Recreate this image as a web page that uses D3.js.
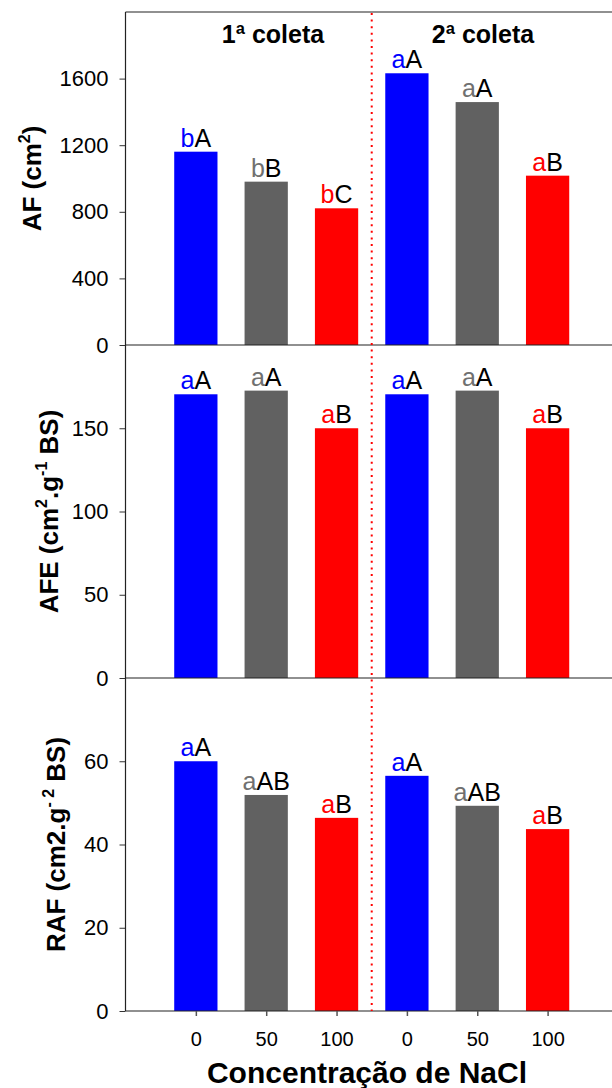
<!DOCTYPE html>
<html><head><meta charset="utf-8">
<script src="https://cdn.jsdelivr.net/npm/d3@7/dist/d3.min.js"></script>
<style>body{margin:0;background:#fff}svg{display:block}text{font-family:"Liberation Sans",Arial,sans-serif}</style>
</head><body>
<script>
const categories = ["0","50","100","0","50","100"];
const collections = ["1ª coleta","2ª coleta"];
const afValues = [1161, 981, 821, 1632, 1459, 1017];
const afeValues = [170.4, 172.6, 150.0, 170.4, 172.6, 150.0];
const rafValues = [60.0, 51.9, 46.4, 56.5, 49.3, 43.7];
const afLower = ["b","b","b","a","a","a"];
const afUpper = ["A","B","C","A","A","B"];
const afeLower = ["a","a","a","a","a","a"];
const afeUpper = ["A","A","B","A","A","B"];
const rafLower = ["a","a","a","a","a","a"];
const rafUpper = ["A","AB","B","A","AB","B"];
const afTicks = [0,400,800,1200,1600];
const afeTicks = [0,50,100,150];
const rafTicks = [0,20,40,60];

const barColors = ["#0000ff","#616161","#ff0000"];
const letterColors = ["#0000ff","#707070","#ff0000"];

const W = 612, H = 1088;
const svg = d3.select("body").append("svg").attr("width",W).attr("height",H);

const x = d3.scaleLinear().domain([0,7]).range([125.5, 125.5+7*70.35]);
const bw = x(0.615)-x(0);

const panels = [
  {vals:afValues, lo:afLower, up:afUpper, ticks:afTicks, dom:[0,2000], top:12, bot:345, titleX:41, title:[["AF (cm",0],["2",1],[")",0]]},
  {vals:afeValues, lo:afeLower, up:afeUpper, ticks:afeTicks, dom:[0,200], top:345, bot:678, titleX:58, title:[["AFE (cm",0],["2",1],[".g",0],["-1",1],[" BS)",0]]},
  {vals:rafValues, lo:rafLower, up:rafUpper, ticks:rafTicks, dom:[0,80], top:678, bot:1011, titleX:65, title:[["RAF (cm2.g",0],["- 2",1],[" BS)",0]]}
];

panels.forEach(p=>{
  const y = d3.scaleLinear().domain(p.dom).range([p.bot,p.top]);
  const g = svg.append("g");
  g.selectAll("rect").data(p.vals).join("rect")
    .attr("x",(d,i)=>x(i+1)-bw/2).attr("width",bw)
    .attr("y",d=>y(d)).attr("height",d=>y(0)-y(d))
    .attr("fill",(d,i)=>barColors[i%3]);
  const lab = g.selectAll("text.lab").data(p.vals).join("text").attr("class","lab")
    .attr("x",(d,i)=>x(i+1)).attr("y",d=>y(d)-5)
    .attr("text-anchor","middle").attr("font-size",25);
  lab.append("tspan").attr("fill",(d,i)=>letterColors[i%3]).text((d,i)=>p.lo[i]);
  lab.append("tspan").attr("fill","#000").text((d,i)=>p.up[i]);
  // y axis
  const ax = g.append("g").attr("transform",`translate(${x(0)},0)`)
    .call(d3.axisLeft(y).tickValues(p.ticks).tickFormat(d3.format("d")).tickSize(6).tickPadding(11).tickSizeOuter(0));
  ax.select(".domain").remove();
  ax.selectAll("line").attr("stroke","#333");
  ax.selectAll("text").attr("font-size",22).attr("fill","#000")
    .attr("font-family","'Liberation Sans',Arial,sans-serif");
  // title
  const cy = (p.top+p.bot)/2;
  const t = g.append("text").attr("transform",`translate(${p.titleX},${cy}) rotate(-90)`)
    .attr("text-anchor","middle").attr("font-size",26).attr("font-weight","bold");
  let prevSup = false;
  p.title.forEach(([s,sup])=>{
    const ts = t.append("tspan").text(s);
    if(sup){ ts.attr("font-size",16).attr("dy",-11); prevSup=true; }
    else if(prevSup){ ts.attr("dy",11); prevSup=false; }
  });
  g.append("line").attr("x1",x(0)).attr("x2",W).attr("y1",p.bot).attr("y2",p.bot).attr("stroke","#222").attr("stroke-width",1.2);
});

// frame
svg.append("line").attr("x1",x(0)).attr("x2",W).attr("y1",12).attr("y2",12).attr("stroke","#222").attr("stroke-width",1.2);
svg.append("line").attr("x1",x(0)).attr("x2",x(0)).attr("y1",12).attr("y2",1011).attr("stroke","#222").attr("stroke-width",1.2);

// divider
svg.append("line").attr("x1",x(3.5)).attr("x2",x(3.5)).attr("y1",13).attr("y2",1011)
  .attr("stroke","#ff0000").attr("stroke-width",2).attr("stroke-dasharray","2,4.6");

// collection titles
svg.selectAll("text.col").data(collections).join("text").attr("class","col")
  .attr("x",(d,i)=>i===0?273:483).attr("y",43).attr("text-anchor","middle")
  .attr("font-size",25).attr("font-weight","bold").text(d=>d);

// x axis
const xa = svg.append("g").attr("transform","translate(0,1011)")
  .call(d3.axisBottom(x).tickValues([1,2,3,4,5,6]).tickFormat((d,i)=>categories[i]).tickSize(5).tickPadding(16).tickSizeOuter(0));
xa.select(".domain").remove();
xa.selectAll("line").attr("stroke","#555").attr("stroke-width",1.5);
xa.selectAll("text").attr("font-size",20).attr("fill","#000").attr("font-family","'Liberation Sans',Arial,sans-serif");

svg.append("text").attr("x",367).attr("y",1083).attr("text-anchor","middle")
  .attr("font-size",30).attr("font-weight","bold").text("Concentração de NaCl");
</script>
</body></html>
